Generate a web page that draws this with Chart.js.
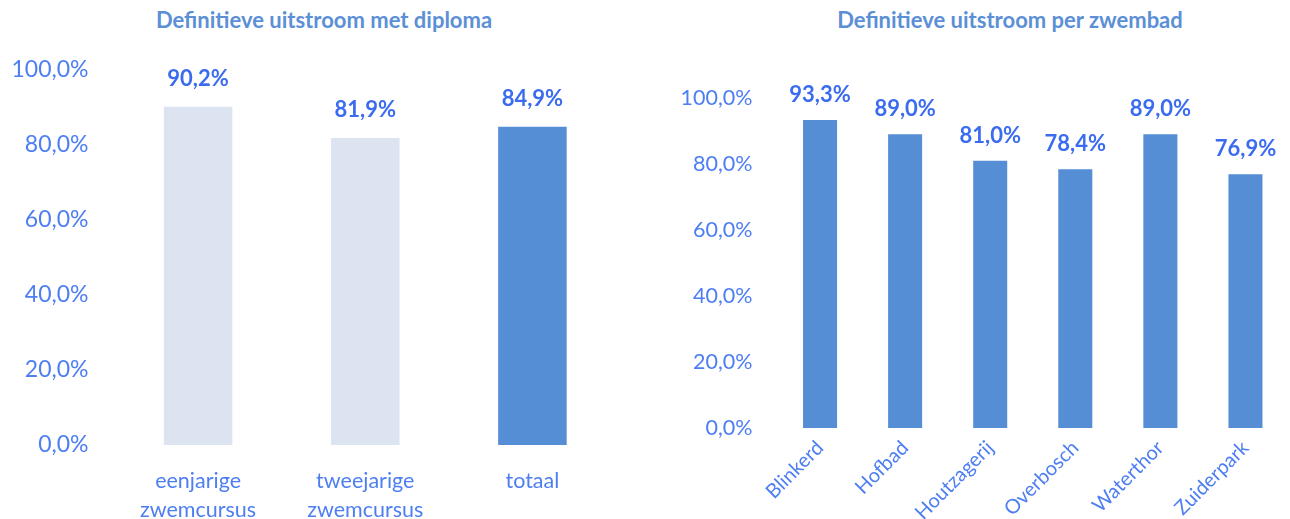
<!DOCTYPE html>
<html>
<head>
<meta charset="utf-8">
<script src="https://cdn.jsdelivr.net/npm/chart.js@4"></script>
<style>
    body { margin: 0; background: #fff; width: 1290px; height: 519px; overflow: hidden; position: relative; font-family: Lato, sans-serif; }
    .box { position: absolute; top: 0; height: 519px; }
    .titel { position: absolute; top: 6px; font-weight: bold; font-size: 22px; color: #5b8fd6; white-space: nowrap; transform: translateX(-50%); }
</style>
</head>
<body>
<div class="titel" style="left:324px">Definitieve uitstroom met diploma</div>
<div class="titel" style="left:1010px">Definitieve uitstroom per zwembad</div>
<div class="box" style="left:0; width:640px"><canvas id="diploma"></canvas></div>
<div class="box" style="left:640px; width:650px"><canvas id="zwembad"></canvas></div>
<script>
// DATA
const cursussen = [["eenjarige", "zwemcursus"], ["tweejarige", "zwemcursus"], "totaal"];
const uitstroomDiploma = [90.2, 81.9, 84.9];
const kleurenDiploma = ["#dbe4f0", "#dbe4f0", "#558ed5"];

const zwembaden = ["Blinkerd", "Hofbad", "Houtzagerij", "Overbosch", "Waterthor", "Zuiderpark"];
const uitstroomZwembad = [93.3, 89.0, 81.0, 78.4, 89.0, 76.9];

const yTicks = [0, 20, 40, 60, 80, 100];

const tickKleur = "#4d7ef2";
const labelKleur = "#3b6cf0";

function procent(v) {
    return v.toFixed(1).replace(".", ",") + "%";
}

// LABELS BOVEN DE STAVEN
const waardeLabels = {
    id: "waardeLabels",
    afterDatasetsDraw(chart, args, opts) {
        const ctx = chart.ctx;
        ctx.save();
        ctx.font = "bold " + opts.size + "px Lato, sans-serif";
        ctx.fillStyle = labelKleur;
        ctx.textAlign = "center";
        ctx.textBaseline = "middle";
        chart.getDatasetMeta(0).data.forEach((bar, i) => {
            const v = chart.data.datasets[0].data[i];
            ctx.fillText(procent(v), bar.x, bar.y - opts.offset);
        });
        ctx.restore();
    },
};

function yAs(size, padding, breedte) {
    return {
        min: 0,
        max: 100,
        afterBuildTicks: (scale) => { scale.ticks = yTicks.map((v) => ({ value: v })); },
        afterFit: (scale) => { scale.width = breedte; },
        grid: { display: false, drawTicks: false },
        border: { display: false },
        ticks: {
            padding: padding,
            color: tickKleur,
            font: { size: size, family: "Lato" },
            callback: (v) => procent(v),
        },
    };
}

// GRAFIEK LINKS
new Chart(document.getElementById("diploma"), {
    type: "bar",
    data: {
        labels: cursussen,
        datasets: [{
            data: uitstroomDiploma,
            backgroundColor: kleurenDiploma,
            barPercentage: 0.41,
            categoryPercentage: 1,
        }],
    },
    options: {
        responsive: true,
        maintainAspectRatio: false,
        animation: false,
        layout: { padding: { top: 70, right: 24, bottom: 0, left: 0 } },
        scales: {
            y: yAs(23, 26, 114.5),
            x: {
                afterFit: (scale) => { scale.height = 74; },
                grid: { display: false, drawTicks: false },
                border: { display: false },
                ticks: {
                    padding: 22,
                    color: tickKleur,
                    font: { size: 21.5, family: "Lato", lineHeight: 1.32 },
                    maxRotation: 0,
                    autoSkip: false,
                },
            },
        },
        plugins: {
            legend: { display: false },
            tooltip: { enabled: false },
            waardeLabels: { size: 22, offset: 28 },
        },
    },
    plugins: [waardeLabels],
});

// GRAFIEK RECHTS
new Chart(document.getElementById("zwembad"), {
    type: "bar",
    data: {
        labels: zwembaden,
        datasets: [{
            data: uitstroomZwembad,
            backgroundColor: "#558ed5",
            barPercentage: 0.4,
            categoryPercentage: 1,
        }],
    },
    options: {
        responsive: true,
        maintainAspectRatio: false,
        animation: false,
        layout: { padding: { top: 98, right: 2, bottom: 0, left: 0 } },
        scales: {
            y: yAs(21.5, 25, 137.5),
            x: {
                afterFit: (scale) => { scale.height = 91; },
                grid: { display: false, drawTicks: false },
                border: { display: false },
                ticks: {
                    padding: 8,
                    color: tickKleur,
                    font: { size: 20, family: "Lato" },
                    minRotation: 45,
                    maxRotation: 45,
                    autoSkip: false,
                },
            },
        },
        plugins: {
            legend: { display: false },
            tooltip: { enabled: false },
            waardeLabels: { size: 22, offset: 25 },
        },
    },
    plugins: [waardeLabels],
});
</script>
</body>
</html>
